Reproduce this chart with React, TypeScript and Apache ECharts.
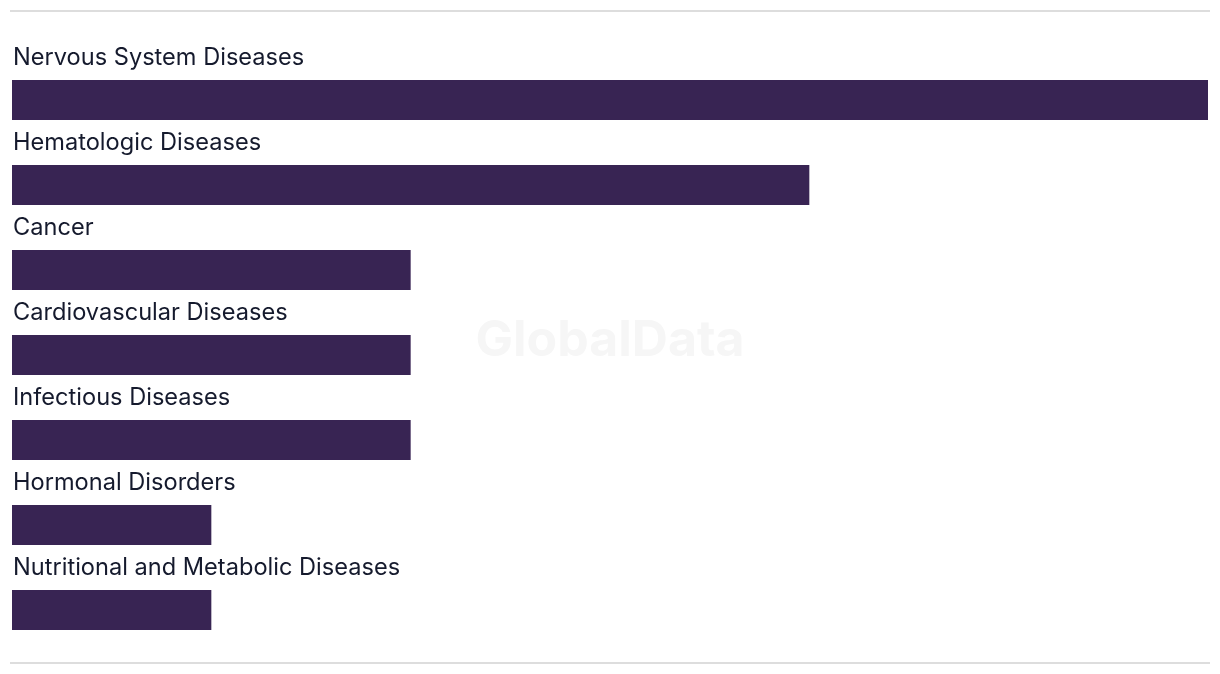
import React, { useEffect, useRef } from "react";
import * as echarts from "echarts";

const categories = [
  "Nervous System Diseases",
  "Hematologic Diseases",
  "Cancer",
  "Cardiovascular Diseases",
  "Infectious Diseases",
  "Hormonal Disorders",
  "Nutritional and Metabolic Diseases",
];
const values = [6, 4, 2, 2, 2, 1, 1];

export default function App() {
  const ref = useRef<HTMLDivElement>(null);
  useEffect(() => {
    if (!ref.current) return;
    const chart = echarts.init(ref.current, undefined, { renderer: "svg" });
    chart.setOption({
      animation: false,
      grid: { left: 12, right: 12, top: 57.5, bottom: 21.5, containLabel: false },
      xAxis: { type: "value", min: 0, max: 6, show: false },
      yAxis: {
        type: "category",
        data: categories,
        inverse: true,
        show: false,
      },
      graphic: [
        {
          type: "line",
          shape: { x1: 10, y1: 11, x2: 1210, y2: 11 },
          style: { stroke: "#dddddd", lineWidth: 2 },
        },
        {
          type: "line",
          shape: { x1: 10, y1: 663, x2: 1210, y2: 663 },
          style: { stroke: "#dddddd", lineWidth: 2 },
        },
        {
          type: "text",
          x: 610,
          y: 338,
          z: -10,
          style: {
            text: "GlobalData",
            fontFamily: "Inter",
            fontWeight: "bold",
            fontSize: 50,
            fill: "#f6f6f6",
            align: "center",
            verticalAlign: "middle",
          },
        },
      ],
      series: [
        {
          type: "bar",
          data: values,
          barWidth: 40,
          itemStyle: { color: "#382453" },
          label: {
            show: true,
            position: [1, -12],
            align: "left",
            verticalAlign: "bottom",
            formatter: (p: any) => p.name,
            fontFamily: "Inter",
            fontSize: 23.6,
            color: "#151a2d",
          },
        },
      ],
    });
    return () => chart.dispose();
  }, []);
  return (
    <div
      ref={ref}
      style={{ position: "fixed", left: 0, top: 0, width: 1220, height: 674 }}
    />
  );
}
